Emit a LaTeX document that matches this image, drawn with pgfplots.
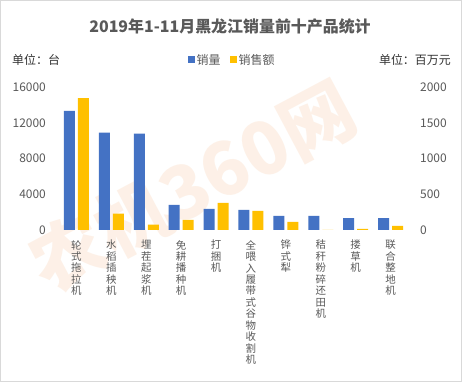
\documentclass[border=0pt]{standalone}
\usepackage{fontspec}
\setmainfont{Noto Sans CJK SC}
\usepackage{pgfplots}
\pgfplotsset{compat=1.18}
\definecolor{cblue}{HTML}{4472C4}
\definecolor{cyellow}{HTML}{FFC000}
\definecolor{tgray}{HTML}{595959}
\definecolor{lgray}{HTML}{D9D9D9}
\definecolor{wmark}{HTML}{F08A3C}
\begin{document}
\begin{tikzpicture}
\useasboundingbox (0bp,0bp) rectangle (462bp,382bp);
\draw[draw=lgray, fill=white] (0.5bp,0.5bp) rectangle (461.5bp,381.5bp);
\node[rotate=28, text=wmark, opacity=0.12, font=\bfseries\fontsize{74}{74}\selectfont] at (192bp,196bp) {农机360网};
\node[font=\bfseries\fontsize{16}{16}\selectfont, text=tgray] at (230bp,356bp) {2019年1-11月黑龙江销量前十产品统计};
\node[anchor=west, inner sep=0pt, font=\fontsize{12}{12}\selectfont, text=black!80] at (12bp,322bp) {单位：台};
\node[anchor=east, inner sep=0pt, font=\fontsize{12}{12}\selectfont, text=black!80] at (451bp,322bp) {单位：百万元};
\begin{axis}[
  at={(59bp,152bp)}, anchor=south west,
  scale only axis, width=349bp, height=143bp,
  xmin=-0.5, xmax=9.5, ymin=0, ymax=16000,
  ybar, bar width=11bp, bar shift=-7bp,
  axis line style={draw=none},
  major tick length=0pt,
  ytick={0,4000,8000,12000,16000},
  scaled y ticks=false,
  /pgf/number format/.cd, 1000 sep={}, assume math mode=true, /pgfplots/.cd,
  yticklabel style={inner sep=0pt, anchor=east, xshift=-13bp, font=\fontsize{12}{12}\selectfont, text=tgray},
  xtick={0,1,2,3,4,5,6,7,8,9},
  xticklabels={{轮\\式\\拖\\拉\\机},{水\\稻\\插\\秧\\机},{埋\\茬\\起\\浆\\机},{免\\耕\\播\\种\\机},{打\\捆\\机},{全\\喂\\入\\履\\带\\式\\谷\\物\\收\\割\\机},{铧\\式\\犁},{秸\\秆\\粉\\碎\\还\\田\\机},{搂\\草\\机},{联\\合\\整\\地\\机}},
  xticklabel style={align=center, anchor=north, inner sep=0pt, yshift=-10bp, font=\fontsize{10.5}{11.5}\selectfont, text=tgray},
  legend image code/.code={\fill[#1] (0bp,-3.5bp) rectangle (7bp,3.5bp);},
  legend style={draw=none, fill=none, at={(0.496,1.189)}, anchor=center, legend columns=2, font=\fontsize{12}{12}\selectfont, text=tgray, nodes={inner sep=1.5bp}, /tikz/every even column/.append style={column sep=8bp}},
  legend cell align=left,
]
\addplot[fill=cblue, draw=none] coordinates {(0,13320) (1,10890) (2,10780) (3,2800) (4,2350) (5,2240) (6,1570) (7,1570) (8,1340) (9,1340)};
\addlegendentry{销量}
\addlegendimage{fill=cyellow, draw=none}
\addlegendentry{销售额}
\draw[lgray, line width=0.8bp] (axis cs:-0.5,0) -- (axis cs:9.5,0);
\end{axis}
\begin{axis}[
  at={(59bp,152bp)}, anchor=south west,
  scale only axis, width=349bp, height=143bp,
  xmin=-0.5, xmax=9.5, ymin=0, ymax=2000,
  ybar, bar width=11bp, bar shift=7bp,
  axis line style={draw=none},
  major tick length=0pt,
  xtick=\empty,
  ytick={0,500,1000,1500,2000},
  yticklabel pos=right,
  scaled y ticks=false,
  /pgf/number format/.cd, 1000 sep={}, assume math mode=true, /pgfplots/.cd,
  yticklabel style={inner sep=0pt, anchor=west, xshift=12bp, font=\fontsize{12}{12}\selectfont, text=tgray},
]
\addplot[fill=cyellow, draw=none] coordinates {(0,1846) (1,228) (2,74) (3,140) (4,378) (5,266) (6,112) (7,0) (8,14) (9,56)};
\end{axis}
\end{tikzpicture}
\end{document}
